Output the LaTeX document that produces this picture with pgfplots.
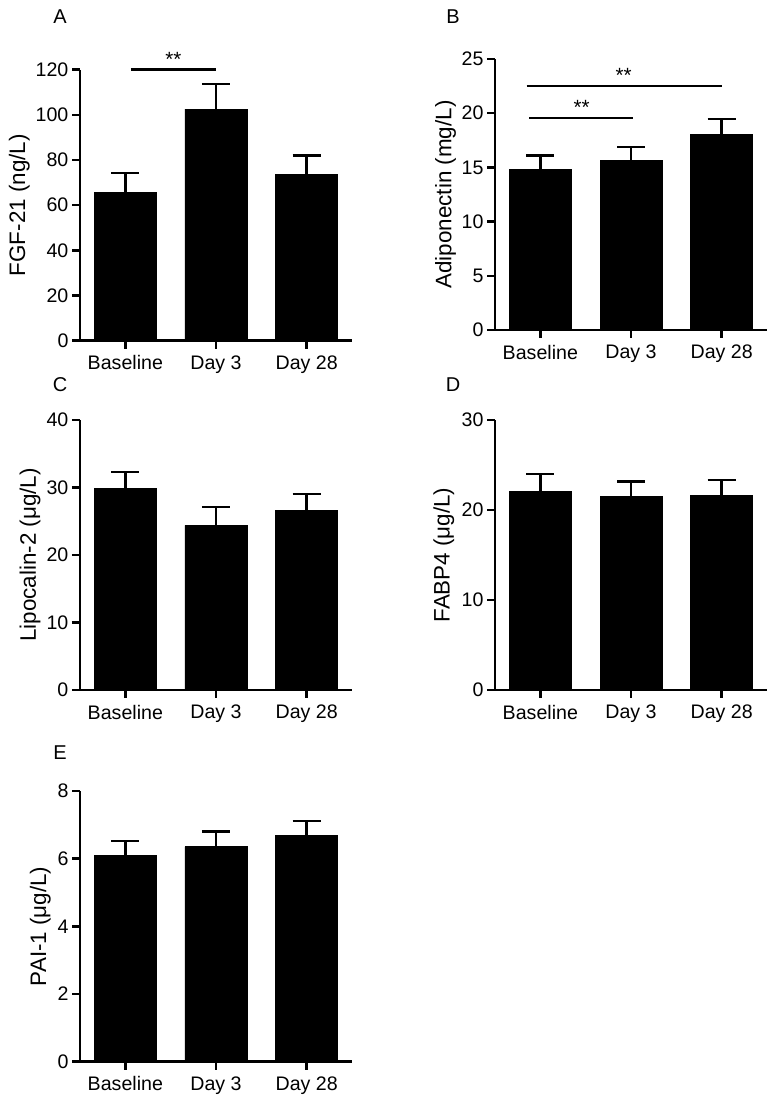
\documentclass[border=0pt]{standalone}
\usepackage{fontspec}
\setmainfont{Liberation Sans}
\usepackage{pgfplots}
\pgfplotsset{compat=1.18}
\pgfplotsset{
  panel/.style={
    scale only axis, width=136pt, height=135.5pt,
    anchor=south west,
    axis lines=left,
    axis line style={-, line width=1.2pt, black},
    xmin=-0.5, xmax=2.5, ymin=0,
    xtick={0,1,2}, xticklabels={Baseline, Day 3, Day 28},
    tick style={black, line width=1.2pt},
    major tick length=4pt,
    tick align=outside,
    /pgf/number format/assume math mode=true,
    tick label style={font=\fontsize{9.8}{11}\selectfont},
    yticklabel style={inner xsep=1.6pt},
    label style={font=\fontsize{11.2}{13}\selectfont},
    ybar, bar width=31pt,
    clip=false,
  },
  ylab/.style={ylabel style={at={(axis description cs:#1,0.5)}, anchor=base}},
  bars/.style={fill=black, draw=black,
    error bars/.cd, y dir=plus, y explicit,
    error bar style={line width=1.2pt, black},
    error mark options={rotate=90, black, line width=1.2pt, mark size=7pt}},
}
\begin{document}
\begin{tikzpicture}
\useasboundingbox (0,0) rectangle (387.5pt,551.5pt);
\tikzset{sig/.style={anchor=base, inner sep=0pt, yshift=1.7pt, font=\fontsize{10.3}{12}\selectfont},
  letter/.style={font=\fontsize{10}{12}\selectfont}}
% A
\begin{axis}[panel, at={(40pt,381.15pt)}, ymax=120, ytick={0,20,...,120}, ylabel={FGF-21 (ng/L)}, ylab=-0.202]
\addplot[bars] coordinates {(0,65.7) +- (0,8.6) (1,102.5) +- (0,11.1) (2,73.8) +- (0,8.2)};
\draw[line width=1.2pt] (axis cs:0.06,120) -- (axis cs:1.0,120);
\node[sig] at (axis cs:0.53,120) {**};
\end{axis}
% B
\begin{axis}[panel, at={(247.5pt,386.5pt)}, ymax=25, ytick={0,5,...,25}, ylabel={Adiponectin (mg/L)}, ylab=-0.160]
\addplot[bars] coordinates {(0,14.85) +- (0,1.23) (1,15.62) +- (0,1.26) (2,18.05) +- (0,1.41)};
\draw[line width=1.2pt] (axis cs:-0.15,22.5) -- (axis cs:2.0,22.5);
\node[sig] at (axis cs:0.92,22.5) {**};
\draw[line width=1.2pt] (axis cs:-0.125,19.56) -- (axis cs:1.02,19.56);
\node[sig] at (axis cs:0.456,19.56) {**};
\end{axis}
% C
\begin{axis}[panel, height=135pt, at={(40pt,206.5pt)}, ymax=40, ytick={0,10,...,40}, ylabel={Lipocalin-2 (μg/L)}, ylab=-0.162]
\addplot[bars] coordinates {(0,29.9) +- (0,2.4) (1,24.4) +- (0,2.7) (2,26.55) +- (0,2.45)};
\end{axis}
% D
\begin{axis}[panel, height=135pt, at={(247.5pt,206.5pt)}, ymax=30, ytick={0,10,...,30}, ylabel={FABP4 (μg/L)}, ylab=-0.167]
\addplot[bars] coordinates {(0,22.1) +- (0,1.9) (1,21.55) +- (0,1.6) (2,21.6) +- (0,1.7)};
\end{axis}
% E
\begin{axis}[panel, height=135.35pt, at={(40pt,20.65pt)}, ymax=8, ytick={0,2,...,8}, ylabel={PAI-1 (μg/L)}, ylab=-0.125]
\addplot[bars] coordinates {(0,6.09) +- (0,0.43) (1,6.35) +- (0,0.45) (2,6.69) +- (0,0.43)};
\end{axis}
\node[letter] at (30pt,543pt) {A};
\node[letter] at (226.5pt,543pt) {B};
\node[letter] at (30pt,359pt) {C};
\node[letter] at (226.5pt,359pt) {D};
\node[letter] at (30pt,175pt) {E};
\end{tikzpicture}
\end{document}
